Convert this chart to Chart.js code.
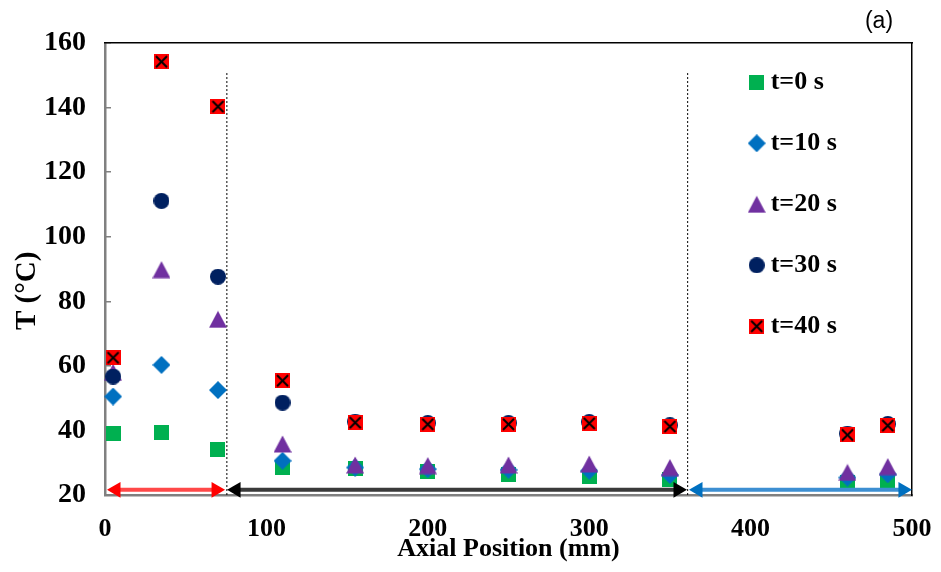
<!DOCTYPE html>
<html><head><meta charset="utf-8">
<script src="https://cdn.jsdelivr.net/npm/chart.js@4/dist/chart.umd.min.js"></script>
<style>html,body{margin:0;padding:0;background:#fff}</style>
</head><body>
<canvas id="c" width="941" height="572"></canvas>
<script>
// ---- data ----
const axialPosition = [5, 35, 70, 110, 155, 200, 250, 300, 350, 460, 485];
const T_t0  = [38.9, 39.3, 34.0, 28.5, 28.1, 27.3, 26.5, 25.6, 24.7, 24.0, 24.0];
const T_t10 = [50.5, 60.3, 52.5, 30.6, 28.5, 28.0, 27.8, 27.5, 26.2, 25.4, 26.4];
const T_t20 = [58.0, 89.8, 74.4, 35.8, 29.3, 29.1, 29.3, 29.6, 28.5, 27.0, 28.8];
const T_t30 = [56.7, 111.1, 87.6, 48.6, 42.7, 42.3, 42.3, 42.6, 41.6, 39.0, 42.0];
const T_t40 = [62.5, 154.2, 140.3, 55.4, 42.4, 41.9, 41.9, 42.2, 41.2, 38.6, 41.5];
const seriesLabels = ['t=0 s', 't=10 s', 't=20 s', 't=30 s', 't=40 s'];
const xTicks = [0, 100, 200, 300, 400, 500];
const yTicks = [20, 40, 60, 80, 100, 120, 140, 160];
const zoneBoundaries = [75.5, 361];
const boundaryTop = 150.7;
const arrowY = 21.6;
const arrowRed = [6.8, 68.8];
const arrowBlack = [81.2, 355.0];
const arrowBlue = [367.4, 494.4];

// ---- marker images ----
function marker(shape, color) {
  const c = document.createElement('canvas');
  const s = {square: 15, diamond: 18, triangle: 18, circle: 16, cross: 15}[shape];
  c.width = s; c.height = s;
  const g = c.getContext('2d');
  g.fillStyle = color;
  g.beginPath();
  if (shape === 'square' || shape === 'cross') g.rect(0, 0, s, s);
  else if (shape === 'diamond') { g.moveTo(s/2, 0); g.lineTo(s, s/2); g.lineTo(s/2, s); g.lineTo(0, s/2); g.closePath(); }
  else if (shape === 'triangle') { g.moveTo(s/2, 0.5); g.lineTo(s, s - 0.5); g.lineTo(0, s - 0.5); g.closePath(); }
  else if (shape === 'circle') g.arc(s/2, s/2, s/2, 0, Math.PI * 2);
  g.fill();
  if (shape === 'cross') {
    g.strokeStyle = '#000'; g.lineWidth = 2;
    g.beginPath(); g.moveTo(2, 2); g.lineTo(s - 2, s - 2); g.moveTo(s - 2, 2); g.lineTo(2, s - 2); g.stroke();
  }
  return c;
}
const styles = [
  marker('square', '#00B050'),
  marker('diamond', '#0070C0'),
  marker('triangle', '#7030A0'),
  marker('circle', '#002060'),
  marker('cross', '#FF0000')
];
const seriesValues = [T_t0, T_t10, T_t20, T_t30, T_t40];

const datasets = seriesValues.map((vals, k) => ({
  label: seriesLabels[k],
  data: axialPosition.map((x, i) => ({x: x, y: vals[i]})),
  pointStyle: styles[k],
  pointRadius: 9,
  showLine: false,
  order: 5 - k,
  clip: false
}));
function arrow(xs, lineColor, headColor) {
  return {
    label: 'arrow',
    data: xs.map(x => ({x: x, y: arrowY})),
    showLine: true,
    borderColor: lineColor,
    borderWidth: 4,
    pointStyle: 'triangle',
    pointRadius: 9,
    pointRotation: [270, 90],
    pointBackgroundColor: headColor,
    pointBorderWidth: 0,
    order: 0,
    clip: false
  };
}
datasets.push(arrow(arrowRed, '#FF4848', '#FF0000'));
datasets.push(arrow(arrowBlack, '#3A3A3A', '#000000'));
datasets.push(arrow(arrowBlue, '#3D8FD2', '#0070C0'));
zoneBoundaries.forEach(bx => datasets.push({
  label: 'boundary',
  data: [{x: bx, y: boundaryTop}, {x: bx, y: yTicks[0]}],
  showLine: true,
  borderColor: '#000',
  borderWidth: 1,
  borderDash: [2, 2],
  pointRadius: 0,
  order: 10,
  clip: false
}));

const serif = 'Liberation Serif';
const placeLegend = {
  id: 'placeLegend',
  afterLayout(chart) {
    const lg = chart.legend;
    if (!lg) return;
    const w = lg.width;
    lg.left = chart.chartArea.right - 191.3;
    lg.right = lg.left + w;
    lg.top = chart.chartArea.top - 8.7;
  }
};
const panelLabel = {
  id: 'panelLabel',
  afterDraw(chart) {
    const ctx = chart.ctx;
    ctx.save();
    ctx.font = '23px "Liberation Sans"';
    ctx.fillStyle = '#000';
    ctx.textAlign = 'center';
    ctx.textBaseline = 'middle';
    ctx.fillText('(a)', 879, 22);
    ctx.restore();
  }
};

new Chart(document.getElementById('c'), {
  type: 'scatter',
  data: {datasets: datasets},
  plugins: [placeLegend, panelLabel],
  options: {
    responsive: false,
    animation: false,
    layout: {padding: {top: 43, right: 29, bottom: 0, left: 0}},
    plugins: {
      tooltip: {enabled: false},
      legend: {
        position: 'chartArea',
        align: 'start',
        labels: {
          usePointStyle: true,
          boxWidth: 2,
          padding: 35,
          color: '#000',
          font: {family: serif, size: 26, weight: 'bold'},
          filter: (item) => item.datasetIndex < 5,
          sort: (a, b) => a.datasetIndex - b.datasetIndex
        }
      }
    },
    scales: {
      x: {
        type: 'linear', position: 'bottom', min: 0, max: 500,
        afterBuildTicks: s => { s.ticks = xTicks.map(v => ({value: v})); },
        afterFit: s => { s.height = 77; s.paddingLeft = 0; s.paddingRight = 0; },
        grid: {display: false, drawTicks: false},
        border: {color: '#808080', width: 2.5},
        ticks: {color: '#000', padding: 19, font: {family: serif, size: 26, weight: 'bold'}},
        title: {display: true, text: 'Axial Position (mm)', color: '#000',
                padding: {top: 0, bottom: 7.4}, font: {family: serif, size: 26, weight: 'bold'}}
      },
      y: {
        type: 'linear', position: 'left', min: 20, max: 160,
        afterBuildTicks: s => { s.ticks = yTicks.map(v => ({value: v})); },
        afterFit: s => { s.width = 105; s.paddingTop = 0; s.paddingBottom = 0; },
        grid: {display: true, drawOnChartArea: false, drawTicks: true, tickLength: -6, color: '#808080', lineWidth: 1.5},
        border: {color: '#808080', width: 2.5},
        ticks: {color: '#000', padding: 25, font: {family: serif, size: 28, weight: 'bold'}},
        title: {display: true, text: 'T (°C)      ', color: '#000',
                padding: {top: 10, bottom: 0}, font: {family: serif, size: 29, weight: 'bold'}}
      },
      x2: {
        type: 'linear', position: 'top', min: 0, max: 500,
        afterFit: s => { s.height = 0; s.paddingLeft = 0; s.paddingRight = 0; },
        grid: {display: false, drawTicks: false},
        ticks: {display: false},
        border: {color: '#000', width: 1.5}
      },
      y2: {
        type: 'linear', position: 'right', min: 20, max: 160,
        afterFit: s => { s.width = 0; s.paddingTop = 0; s.paddingBottom = 0; },
        grid: {display: false, drawTicks: false},
        ticks: {display: false},
        border: {color: '#000', width: 1.5}
      }
    }
  }
});
</script>
</body></html>
